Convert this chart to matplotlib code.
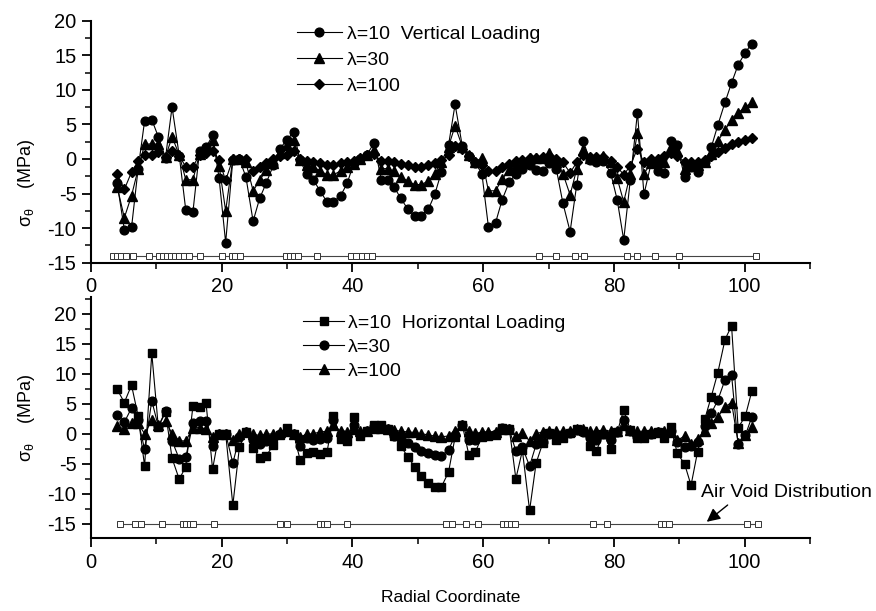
import matplotlib
matplotlib.use("Agg")
import matplotlib.pyplot as plt
from matplotlib.ticker import MultipleLocator

plt.rcParams['font.family'] = ['Liberation Sans', 'DejaVu Sans']
plt.rcParams['axes.unicode_minus'] = False
plt.rcParams['mathtext.fontset'] = 'custom'
plt.rcParams['mathtext.rm'] = 'Liberation Sans'
plt.rcParams['mathtext.it'] = 'Liberation Sans'
plt.rcParams['mathtext.bf'] = 'Liberation Sans:bold'

# ---------------- data ----------------
x_pos = [4.0, 5.1, 6.2, 7.2, 8.2, 9.3, 10.3, 11.4, 12.4, 13.5,
         14.5, 15.6, 16.6, 17.6, 18.6, 19.6, 20.6, 21.7, 22.7, 23.7,
         24.8, 25.8, 26.8, 27.9, 28.9, 30.0, 31.0, 32.0, 33.0, 34.0,
         35.1, 36.1, 37.1, 38.2, 39.2, 40.2, 41.2, 42.2, 43.3, 44.4,
         45.4, 46.4, 47.4, 48.5, 49.5, 50.5, 51.6, 52.6, 53.6, 54.7,
         55.7, 56.8, 57.8, 58.8, 59.8, 60.8, 61.9, 62.9, 64.0, 65.0,
         66.0, 67.1, 68.1, 69.1, 70.1, 71.2, 72.2, 73.3, 74.3, 75.3,
         76.3, 77.3, 78.4, 79.5, 80.5, 81.5, 82.5, 83.6, 84.6, 85.7,
         86.7, 87.7, 88.7, 89.7, 90.8, 91.8, 92.8, 93.9, 94.9, 95.9,
         97.0, 98.0, 99.0, 100.1, 101.1]

# Vertical loading
vert_l10 = [-3.5, -10.2, -9.9, -1.5, 5.5, 5.7, 3.2, 0.2, 7.5, 0.5,
            -7.4, -7.6, 1.1, 1.7, 3.4, -2.8, -12.1, -0.1, 0.0, -2.6,
            -9.0, -5.7, -3.5, -0.9, 1.5, 2.8, 3.9, -0.2, -2.2, -3.0,
            -4.7, -6.2, -6.2, -5.3, -3.5, -0.6, 0.0, 0.6, 2.3, -3.0,
            -3.0, -4.1, -5.7, -7.3, -8.2, -8.2, -7.3, -5.1, -1.9, 2.0,
            7.9, 1.9, 0.5, -0.6, -2.1, -9.8, -9.2, -5.9, -3.3, -2.2,
            -1.4, -0.8, -1.6, -1.8, -0.6, -1.5, -6.4, -10.5, -3.8, 2.6,
            -0.1, -0.5, -0.3, -2.0, -5.9, -11.7, -3.1, 6.7, -5.1, -0.6,
            -1.7, -2.0, 2.6, 2.0, -2.6, -1.2, -1.9, -0.5, 1.7, 4.9,
            8.2, 11.0, 13.6, 15.4, 16.7]
vert_l30 = [-4.0, -8.5, -5.3, -1.5, 2.1, 2.2, 2.1, 0.3, 3.2, 0.6,
            -3.0, -3.0, 0.7, 1.6, 2.7, -1.0, -7.5, 0.0, 0.0, -0.5,
            -4.6, -3.1, -1.6, -0.6, 0.9, 2.0, 2.7, -0.2, -0.8, -1.2,
            -1.7, -2.3, -2.3, -1.7, -1.2, -0.7, 0.0, 0.6, 1.3, -1.4,
            -1.4, -1.8, -2.6, -3.2, -3.7, -3.7, -3.2, -2.1, -0.4, 1.8,
            4.8, 1.8, 0.6, -0.4, 0.1, -4.6, -4.6, -2.9, -1.6, -0.9,
            -0.4, 0.1, 0.1, 0.2, 0.8, -0.4, -2.1, -5.2, -1.5, 1.3,
            0.1, 0.1, 0.4, -0.4, -2.8, -6.2, -2.2, 3.8, -2.1, -0.6,
            -0.4, -0.5, 1.8, 1.1, -1.5, -0.8, -0.9, -0.4, 0.7, 2.6,
            4.2, 5.7, 6.7, 7.5, 8.2]
vert_l100 = [-2.2, -4.4, -1.9, -0.3, 0.6, 0.6, 1.0, 0.3, 1.1, 0.4,
             -1.1, -1.1, 0.6, 0.9, 1.1, -0.2, -3.1, 0.0, 0.0, 0.0,
             -1.7, -1.2, -0.6, 0.0, 0.5, 0.6, 1.1, 0.0, -0.3, -0.4,
             -0.6, -0.8, -0.8, -0.6, -0.4, -0.3, 0.2, 0.6, 0.7, -0.3,
             -0.3, -0.5, -0.7, -0.9, -1.1, -1.1, -0.9, -0.6, -0.2, 0.6,
             1.9, 1.4, 0.4, -0.5, -0.8, -1.7, -1.7, -1.1, -0.7, -0.3,
             -0.1, 0.2, 0.2, 0.3, 0.4, 0.0, -0.5, -2.0, -0.5, 0.6,
             0.3, 0.3, 0.3, -0.3, -1.1, -2.3, -1.0, 1.5, -0.5, 0.0,
             0.0, 0.4, 0.8, 0.5, -0.4, -0.4, -0.4, -0.2, 0.5, 1.0,
             1.6, 2.1, 2.4, 2.7, 3.0]

# Horizontal loading
horz_l10 = [7.4, 5.2, 8.1, 3.0, -5.4, 13.4, 1.1, 3.6, -4.1, -7.6,
            -5.5, 4.6, 4.5, 5.1, -5.9, 0.0, 0.0, -11.9, -2.3, 0.3,
            -2.4, -4.0, -3.7, -1.9, -0.2, 0.9, 0.0, -4.4, -3.2, -3.1,
            -3.4, -3.1, 3.0, -0.9, -1.2, 2.8, -0.4, 0.5, 1.4, 1.5,
            0.8, -0.4, -2.1, -3.9, -5.5, -7.1, -8.2, -8.9, -8.9, -6.4,
            -0.6, 1.5, -3.5, -3.0, -0.6, -0.4, -0.2, 0.9, 0.8, -7.5,
            -2.8, -12.8, -4.9, -1.6, 0.1, -1.0, -0.7, 0.1, 0.7, 0.5,
            -2.1, -2.9, 0.0, -2.5, 0.2, 4.0, 0.6, -0.8, -0.7, 0.0,
            0.3, -0.8, 1.1, -3.3, -5.0, -8.6, -3.0, 2.4, 6.2, 10.2,
            15.7, 18.0, 1.0, 2.9, 7.1]
horz_l30 = [3.2, 1.9, 4.3, 2.2, -2.6, 5.5, 1.2, 3.8, -1.2, -4.2,
            -3.9, 1.7, 2.1, 2.1, -2.1, 0.0, 0.0, -4.9, -0.6, 0.3,
            -1.1, -1.8, -1.2, -0.7, 0.0, 0.5, 0.0, -2.1, -0.8, -1.0,
            -0.9, -0.8, 2.2, -0.1, -0.4, 1.4, -0.1, 0.5, 1.2, 1.2,
            0.8, -0.4, -0.8, -1.6, -2.3, -2.9, -3.3, -3.6, -3.7, -2.7,
            -0.3, 1.4, -1.0, -1.1, -0.4, -0.3, -0.1, 0.9, 0.7, -2.9,
            -2.3, -5.4, -1.8, -1.4, 0.0, -0.6, -0.4, 0.1, 0.6, 0.3,
            -0.7, -1.1, 0.0, -1.0, 0.2, 2.3, 0.4, -0.5, -0.4, 0.0,
            0.2, -0.3, 0.5, -1.4, -2.2, -2.0, -1.4, 1.2, 3.4, 5.6,
            9.0, 9.8, -1.8, -0.3, 2.8]
horz_l100 = [1.2, 0.8, 1.7, 1.7, 0.0, 2.2, 1.4, 2.1, 0.0, -1.2,
             -1.2, 1.0, 1.0, 0.8, -0.5, 0.0, 0.0, -1.0, 0.0, 0.2,
             -0.1, -0.3, -0.1, 0.0, 0.2, 0.4, 0.0, -0.5, -0.1, 0.0,
             0.3, 0.4, 1.4, 0.4, 0.2, 0.8, 0.4, 0.5, 0.9, 0.9,
             0.7, 0.6, 0.4, 0.3, 0.2, 0.0, -0.2, -0.4, -0.5, -0.4,
             0.4, 1.4, 0.4, 0.1, 0.2, 0.3, 0.3, 0.8, 0.8, -0.4,
             0.1, -1.2, 0.0, 0.3, 0.4, 0.4, 0.4, 0.5, 0.8, 0.8,
             0.4, 0.4, 0.6, 0.4, 0.5, 1.5, 0.6, 0.4, 0.4, 0.4,
             0.3, 0.4, 0.2, -1.1, -0.4, -1.8, -0.9, 0.5, 1.8, 2.8,
             4.5, 5.2, -1.5, -0.3, 1.1]

# Air void distribution (positions of voids along radial coordinate)
void_top_x = [3.4, 4.0, 4.6, 5.3, 6.5, 8.8, 10.4, 11.0, 11.6, 12.2,
              12.8, 13.5, 14.3, 15.0, 16.7, 20.1, 21.5, 22.1, 22.8,
              29.9, 30.5, 31.1, 31.7, 34.6, 39.8, 40.6, 41.4, 42.2, 43.0,
              68.5, 71.1, 74.1, 75.5, 82.0, 83.5, 86.3, 89.9, 101.8]
void_top_level = -14.0
void_bot_x = [4.5, 6.7, 7.6, 10.8, 14.1, 14.6, 15.2, 15.6, 18.8, 28.9,
              30.0, 35.0, 35.6, 36.1, 39.1, 54.3, 55.3, 57.4, 59.2, 63.0,
              63.7, 64.3, 64.8, 76.8, 79.0, 87.2, 87.8, 88.4, 100.4, 102.0]
void_bot_level = -15.0

legend_top = ['\u03bb=10  Vertical Loading', '\u03bb=30', '\u03bb=100']
legend_bot = ['\u03bb=10  Horizontal Loading', '\u03bb=30', '\u03bb=100']

# ---------------- figure ----------------
W, H = 876, 611
fig = plt.figure(figsize=(W / 100, H / 100), dpi=100)
ax1 = fig.add_axes([91 / W, 1 - 262.7 / H, 719 / W, 242 / H])
ax2 = fig.add_axes([91 / W, 1 - 538 / H, 719 / W, 241 / H])

line_kw = dict(color='black', lw=0.8, mfc='black', mec='black')

def style(ax, ylim):
    ax.set_xlim(0, 110)
    ax.set_ylim(*ylim)
    for s in ['top', 'right']:
        ax.spines[s].set_visible(False)
    for s in ['left', 'bottom']:
        ax.spines[s].set_linewidth(1.5)
    ax.xaxis.set_major_locator(MultipleLocator(20))
    ax.xaxis.set_minor_locator(MultipleLocator(10))
    ax.yaxis.set_major_locator(MultipleLocator(5))
    ax.yaxis.set_minor_locator(MultipleLocator(2.5))
    ax.tick_params(which='major', direction='out', length=6.5, width=1.3,
                   labelsize=14.5, pad=4)
    ax.tick_params(which='minor', direction='out', length=4, width=1.1)

# top panel
ax1.plot(void_top_x, [void_top_level] * len(void_top_x), color='#444444', lw=0.8,
         marker='s', ms=4.5, mfc='white', mec='#333333', mew=0.7, zorder=2)
h1, = ax1.plot(x_pos, vert_l10, marker='o', ms=6.3, **line_kw)
h2, = ax1.plot(x_pos, vert_l30, marker='^', ms=6.8, **line_kw)
h3, = ax1.plot(x_pos, vert_l100, marker='D', ms=5.0, **line_kw)
style(ax1, (-15, 20))
ax1.legend([h1, h2, h3], legend_top, loc='upper left',
           bbox_to_anchor=(0.2865, 0.98), frameon=False, fontsize=14,
           handlelength=2.3, handletextpad=0.26, borderpad=0, borderaxespad=0,
           labelspacing=0.42, numpoints=1)
ax1.set_ylabel(r'$\sigma_{\theta}$    (MPa)', fontsize=13)
ax1.yaxis.set_label_coords(-0.075, 0.33)

# bottom panel
ax2.plot(void_bot_x, [void_bot_level] * len(void_bot_x), color='#444444', lw=0.8,
         marker='s', ms=4.5, mfc='white', mec='#333333', mew=0.7, zorder=2)
g1, = ax2.plot(x_pos, horz_l10, marker='s', ms=5.5, **line_kw)
g2, = ax2.plot(x_pos, horz_l30, marker='o', ms=6.3, **line_kw)
g3, = ax2.plot(x_pos, horz_l100, marker='^', ms=6.8, **line_kw)
style(ax2, (-17.4, 22.8))
ax2.legend([g1, g2, g3], legend_bot, loc='upper left',
           bbox_to_anchor=(0.295, 0.928), frameon=False, fontsize=14,
           handlelength=2.1, handletextpad=0.2, borderpad=0, borderaxespad=0,
           labelspacing=0.32, numpoints=1)
ax2.set_ylabel(r'$\sigma_{\theta}$    (MPa)', fontsize=13)
ax2.yaxis.set_label_coords(-0.075, 0.5)
ax2.set_xlabel('Radial Coordinate', fontsize=12.5, labelpad=13)

ax2.text(93.4, -10.5, 'Air Void Distribution', fontsize=14, ha='left', va='baseline')
ax2.annotate('', xy=(94.2, -14.7), xytext=(97.4, -11.9),
             arrowprops=dict(arrowstyle='-|>', color='black', lw=1.0,
                             mutation_scale=20, shrinkA=0, shrinkB=0))

fig.savefig('out.png', dpi=100)
